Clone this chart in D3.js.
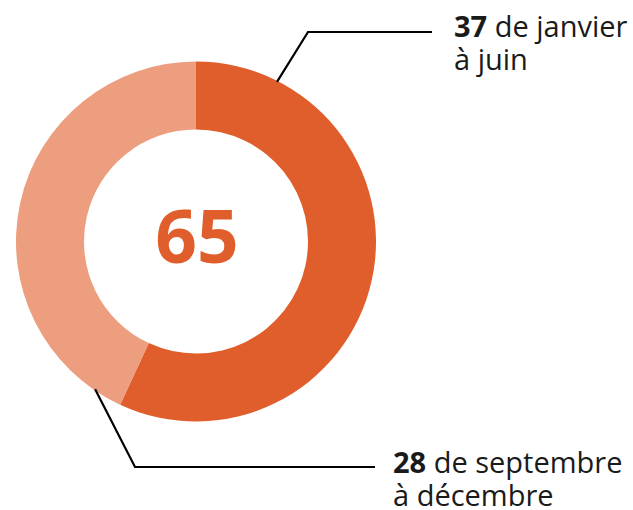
<!DOCTYPE html>
<html>
<head>
<meta charset="utf-8">
<script src="https://cdn.jsdelivr.net/npm/d3@7"></script>
<style>
  body { margin: 0; background: #fff; }
  svg { display: block; font-family: "Open Sans", sans-serif; }
</style>
</head>
<body>
<svg id="chart" width="633" height="510"></svg>
<script>
// data
const periods = ["de janvier|à juin", "de septembre|à décembre"];
const counts = [37, 28];
const colors = ["#e05e2b", "#ec9e7f"];
const total = 65;

const svg = d3.select("#chart");
const cx = 196, cy = 241.5;
const outerR = 180, innerR = 112;

const pie = d3.pie().sort(null).value(d => d)(counts);
const arc = d3.arc().innerRadius(innerR).outerRadius(outerR);

const g = svg.append("g").attr("transform", `translate(${cx},${cy})`);

g.selectAll("path")
  .data(pie)
  .enter().append("path")
  .attr("d", arc)
  .attr("fill", (d, i) => colors[i]);

// total in the hole
g.append("text")
  .attr("text-anchor", "middle")
  .attr("x", 1)
  .attr("y", 21)
  .attr("fill", "#e05e2b")
  .style("font-size", "73px")
  .style("font-weight", 700)
  .text(total);

// leader lines + labels
const labels = [
  {angle: 26.9, corner: [308, 32], end: 432, tx: 454, ty: 37},
  {angle: 214.3, corner: [135, 467], end: 375, tx: 393, ty: 473}
];

labels.forEach((l, i) => {
  const a = l.angle * Math.PI / 180;
  const sx = cx + Math.sin(a) * (outerR - 1);
  const sy = cy - Math.cos(a) * (outerR - 1);
  svg.append("path")
    .attr("d", d3.line()([[sx, sy], l.corner, [l.end, l.corner[1]]]))
    .attr("fill", "none")
    .attr("stroke", "#000")
    .attr("stroke-width", 2.2);

  const [line1, line2] = periods[i].split("|");
  const t = svg.append("text")
    .attr("x", l.tx)
    .attr("y", l.ty)
    .attr("fill", "#1a1a1a")
    .style("font-size", "29px");
  t.append("tspan").style("font-weight", 700).text(counts[i]);
  t.append("tspan").text(" " + line1);
  t.append("tspan").attr("x", l.tx).attr("dy", 33).text(line2);
});
</script>
</body>
</html>
